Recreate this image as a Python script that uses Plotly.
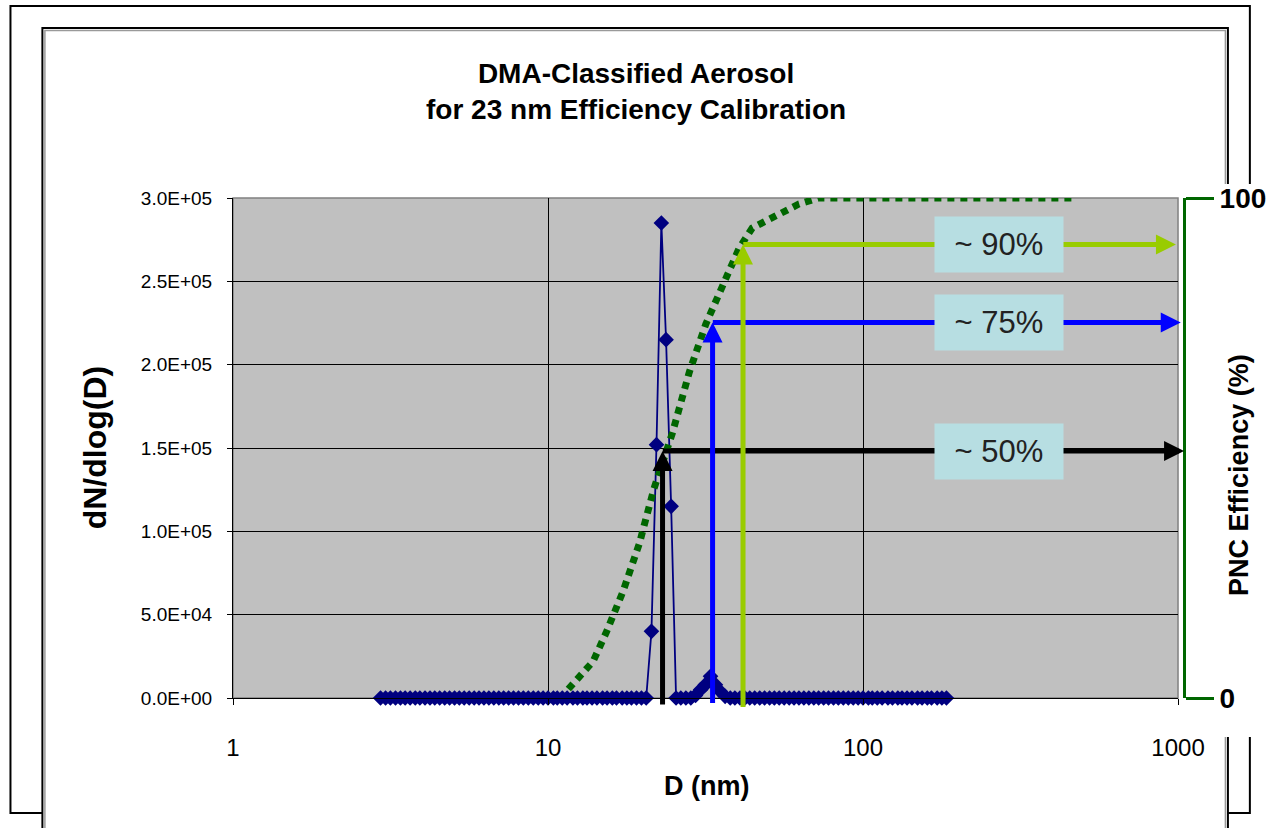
import numpy as np
import plotly.graph_objects as go

# ---------------- data ----------------
diameter_nm = [
    2.94, 3.05, 3.16, 3.28, 3.40, 3.52, 3.65, 3.79, 3.92, 4.07, 4.22, 4.37, 4.53, 4.70, 4.87, 5.05, 5.23,
    5.42, 5.62, 5.83, 6.04, 6.26, 6.49, 6.73, 6.98, 7.23, 7.50, 7.77, 8.06, 8.35, 8.66, 8.98, 9.31, 9.65,
    10.0, 10.4, 10.7, 11.1, 11.5, 12.0, 12.4, 12.9, 13.3, 13.8, 14.3, 14.9, 15.4, 16.0, 16.5, 17.2,
    17.8, 18.4, 19.1, 19.8, 20.5, 21.3, 22.1, 22.9, 23.7, 24.6, 25.5, 26.4, 27.4, 28.4, 29.4, 30.5,
    31.6, 32.8, 34.0, 35.2, 36.5, 37.9, 39.2, 40.7, 42.2, 43.7, 45.3, 47.0, 48.7, 50.5, 52.3, 54.2,
    56.2, 58.3, 60.4, 62.6, 64.9, 67.3, 69.8, 72.3, 75.0, 77.7, 80.6, 83.5, 86.6, 89.8, 93.1, 96.5,
    100, 104, 107, 111, 115, 120, 124, 129, 133, 138, 143, 149, 154, 160, 165, 172, 178, 184,
]
dndlogd = [
    0, 0, 0, 0, 0, 0, 0, 0, 0, 0, 0, 0, 0, 0, 0, 0, 0,
    0, 0, 0, 0, 0, 0, 0, 0, 0, 0, 0, 0, 0, 0, 0, 0, 0,
    0, 0, 0, 0, 0, 0, 0, 0, 0, 0, 0, 0, 0, 0, 0, 0,
    0, 0, 0, 0, 0, 40000, 152000, 285000, 215000, 115000, 0, 0, 0, 0, 1500, 5000,
    8000, 13000, 8000, 4000, 1000, 0, 0, 0, 0, 0, 0, 0, 0, 0, 0, 0,
    0, 0, 0, 0, 0, 0, 0, 0, 0, 0, 0, 0, 0, 0, 0, 0,
    0, 0, 0, 0, 0, 0, 0, 0, 0, 0, 0, 0, 0, 0, 0, 0, 0, 0,
]
eff_diameter_nm = [11.6, 13.9, 15.3, 17.3, 19.5, 21.7, 24.8, 28.1, 31.7, 35.8,
                   40.4, 44.5, 51.5, 62.6, 72.4, 150, 300, 470]
pnc_efficiency = [1.8, 7.3, 13.1, 21.3, 30.9, 41.9, 52.9, 65.2, 74.8, 82.3,
                  89.9, 94.0, 96.0, 98.8, 100, 100, 100, 100]

cut_diameter_nm = [23.1, 33.3, 41.6]
cut_efficiency = [49.4, 75.1, 90.7]
cut_labels = ["~ 50%", "~ 75%", "~ 90%"]
cut_colors = ["#000000", "#0000FF", "#99CC00"]
arrow_start_eff = [-1.6, -1.3, -2.1]
arrow_end_nm = [1045, 1020, 985]
label_nm = 270

x_tick_vals = [1, 10, 100, 1000]
x_tick_text = ["1", "10", "100", "1000"]
y_tick_vals = [0, 50000, 100000, 150000, 200000, 250000, 300000]
y_tick_text = ["0.0E+00", "5.0E+04", "1.0E+05", "1.5E+05", "2.0E+05", "2.5E+05", "3.0E+05"]
y2_tick_vals = [0, 100]
y2_tick_text = ["0", "100"]

# ---------------- layout geometry ----------------
W, H = 1278, 828
ML, MR, MT, MB = 233, 88, 198, 130
PW = W - ML - MR
PH = H - MT - MB


def px(xp):
    return (xp - ML) / PW


def py(yp):
    return (H - MB - yp) / PH


FONT = "Liberation Sans, Arial, sans-serif"
GREEN = "#006600"

fig = go.Figure()

fig.add_trace(go.Scatter(
    x=diameter_nm, y=dndlogd, mode="lines+markers",
    line=dict(color="#000080", width=1.8),
    marker=dict(symbol="diamond", size=12, color="#000080"),
    cliponaxis=False, yaxis="y", xaxis="x", hoverinfo="skip",
))
fig.add_trace(go.Scatter(
    x=eff_diameter_nm, y=pnc_efficiency, mode="lines",
    line=dict(color=GREEN, width=7, dash="7px,6px"),
    yaxis="y2", xaxis="x", hoverinfo="skip",
))

annotations = []
for d, e, c, s, end in zip(cut_diameter_nm, cut_efficiency, cut_colors, arrow_start_eff, arrow_end_nm):
    # vertical arrow
    annotations.append(dict(
        x=np.log10(d), y=e, xref="x", yref="y2",
        ax=np.log10(d), ay=s, axref="x", ayref="y2",
        text="", showarrow=True, arrowhead=2, arrowsize=0.8, arrowwidth=5,
        arrowcolor=c, standoff=0, startstandoff=0,
    ))
    # horizontal arrow
    annotations.append(dict(
        x=np.log10(end), y=e, xref="x", yref="y2",
        ax=np.log10(d) - 0.004, ay=e, axref="x", ayref="y2",
        text="", showarrow=True, arrowhead=2, arrowsize=0.8, arrowwidth=5,
        arrowcolor=c, standoff=0, startstandoff=0,
    ))
for e, lab in zip(cut_efficiency, cut_labels):
    annotations.append(dict(
        x=np.log10(label_nm), y=e, xref="x", yref="y2",
        text=lab, showarrow=False, bgcolor="#B7DEE2",
        width=120, height=47, borderpad=4,
        font=dict(family=FONT, size=31, color="#222222"),
        xanchor="center", yanchor="middle",
    ))

# titles
annotations.append(dict(
    x=px(637), y=py(91.5), xref="paper", yref="paper",
    text="DMA-Classified Aerosol<br>for 23 nm Efficiency Calibration",
    showarrow=False, xanchor="center", yanchor="middle",
    font=dict(family=FONT, size=28, color="#000000", weight="bold"),
))
annotations.append(dict(
    x=px(707), y=py(786), xref="paper", yref="paper", text="D (nm)",
    showarrow=False, xanchor="center", yanchor="middle",
    font=dict(family=FONT, size=27, color="#000000", weight="bold"),
))
annotations.append(dict(
    x=px(95), y=py(447), xref="paper", yref="paper", text="dN/dlog(D)",
    showarrow=False, xanchor="center", yanchor="middle", textangle=-90,
    font=dict(family=FONT, size=32, color="#000000", weight="bold"),
))
annotations.append(dict(
    x=px(1241), y=py(475), xref="paper", yref="paper", text="PNC Efficiency (%)",
    showarrow=False, xanchor="center", yanchor="middle", textangle=-90,
    font=dict(family=FONT, size=27, color="#000000", weight="bold"),
))

x_dom_end = px(1180)
shapes = [
    # outer frame
    dict(type="rect", xref="paper", yref="paper", x0=px(10), x1=px(1252), y0=py(813), y1=py(6),
         line=dict(color="#000000", width=2), fillcolor="rgba(0,0,0,0)", layer="below"),
    # inner white panel
    dict(type="rect", xref="paper", yref="paper", x0=px(42), x1=px(1230), y0=py(860), y1=py(28),
         line=dict(color="#000000", width=2), fillcolor="#FFFFFF", layer="below"),
    dict(type="rect", xref="paper", yref="paper", x0=px(44.5), x1=px(1227.5), y0=py(860), y1=py(30.5),
         line=dict(color="#9A9A9A", width=1.5), fillcolor="rgba(0,0,0,0)", layer="below"),
    # white backing behind the secondary axis (hides frame lines there)
    dict(type="rect", xref="paper", yref="paper", x0=px(1182), x1=px(1290), y0=py(737), y1=py(184),
         line=dict(width=0), fillcolor="#FFFFFF", layer="below"),
    # plot area
    dict(type="rect", xref="paper", yref="paper", x0=0, x1=x_dom_end, y0=0, y1=1,
         line=dict(color="#808080", width=1.5), fillcolor="#C0C0C0", layer="below"),
]

fig.update_layout(
    width=W, height=H,
    margin=dict(l=ML, r=MR, t=MT, b=MB, pad=0),
    paper_bgcolor="#FFFFFF", plot_bgcolor="rgba(0,0,0,0)",
    showlegend=False,
    font=dict(family=FONT, color="#000000"),
    xaxis=dict(
        type="log", range=[0, 3], domain=[0, x_dom_end],
        tickvals=x_tick_vals, ticktext=x_tick_text,
        showgrid=True, gridcolor="#000000", gridwidth=1,
        ticks="outside", ticklen=6, tickcolor="#000000", tickwidth=1,
        showline=True, linecolor="#000000", linewidth=1,
        tickfont=dict(family=FONT, size=24, color="#000000"),
        ticklabelstandoff=22, zeroline=False,
    ),
    yaxis=dict(
        range=[0, 300000], tickvals=y_tick_vals, ticktext=y_tick_text,
        showgrid=True, gridcolor="#000000", gridwidth=1,
        ticks="outside", ticklen=5, tickcolor="#000000", tickwidth=1,
        showline=True, linecolor="#000000", linewidth=1,
        tickfont=dict(family=FONT, size=19, color="#000000"),
        ticklabelstandoff=11, zeroline=False,
    ),
    yaxis2=dict(
        overlaying="y", side="right", anchor="free", position=px(1186),
        range=[0, 100], tickvals=y2_tick_vals, ticktext=y2_tick_text,
        showgrid=False, zeroline=False,
        showline=True, linecolor=GREEN, linewidth=3,
        ticks="outside", ticklen=28, tickwidth=3, tickcolor=GREEN,
        tickfont=dict(family=FONT, size=28, color="#000000", weight="bold"),
    ),
    annotations=annotations,
    shapes=shapes,
)

fig.write_html("out.html")
